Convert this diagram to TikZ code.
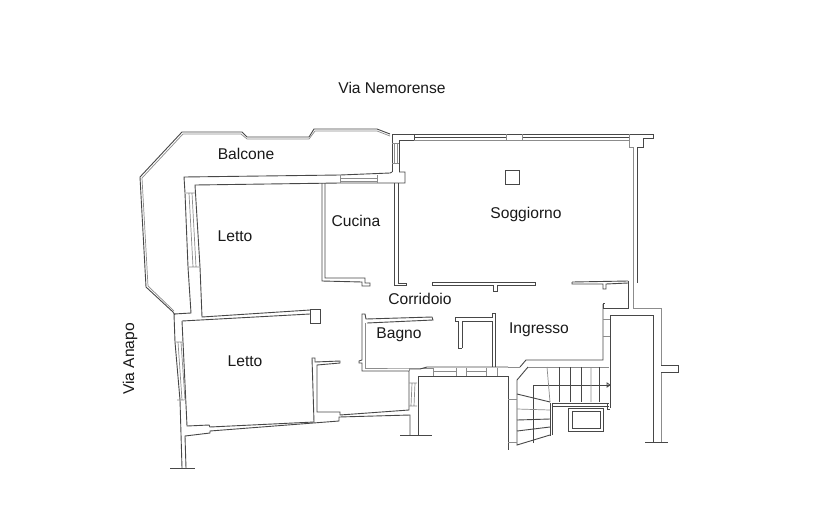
\documentclass[tikz,border=0pt]{standalone}
\usepackage{fontspec}
\setmainfont{Liberation Sans}
\begin{document}
\begin{tikzpicture}[x=1pt,y=-1pt,
  wall/.style={draw=black!72,line width=0.9pt,line join=miter},
  thin wall/.style={draw=black!45,line width=0.7pt},
  label text/.style={font=\fontsize{15.6}{18}\selectfont,text=black!90,inner sep=0pt}]
\useasboundingbox (0,0) rectangle (840,517);
\fill[white] (0,0) rectangle (840,517);
% labels
\node[label text] (nem) at (392,88) {Via Nemorense};
\node[label text] (bal) at (246,154) {Balcone};
\node[label text] (cuc) at (356,220.5) {Cucina};
\node[label text] (le1) at (235,236.5) {Letto};
\node[label text] (sog) at (526,214) {Soggiorno};
\node[label text] (cor) at (420,299) {Corridoio};
\node[label text] (bag) at (399,335) {Bagno};
\node[label text] (ing) at (539,330) {Ingresso};
\node[label text] (le2) at (245,361) {Letto};
\node[label text,rotate=90] (ana) at (130,359) {Via Anapo};
% balcony
\draw[wall] (175,315) -- (173,312) -- (146,287) -- (140,177) -- (182,132) -- (242,132) -- (247,137) -- (309,137) -- (314,129) -- (377,129) -- (390,134);
\draw[thin wall] (174,311) -- (148,286) -- (142,178) -- (183,134) -- (241,134) -- (247,139) -- (309,139) -- (315,131) -- (377,131) -- (390,136);
% top wall and right wall of Soggiorno
\draw[wall] (392,172) -- (392,134) -- (653,134) -- (653,138) -- (643,138) -- (643,147) -- (637,147) -- (637,283);
\draw[wall] (399,172) -- (399,140.5) -- (414,140.5) -- (414,134);
\draw[thin wall] (414,140.5) -- (629,140.5) -- (629,147) -- (633,147) -- (633,283);
\draw[wall] (414,137.5) -- (506,137.5) (522,137.5) -- (629,137.5);
\draw[thin wall] (506,134) -- (506,140.5) (522,134) -- (522,140.5) (629,134) -- (629,140.5);
\draw[thin wall] (392,143) -- (399,143) (392,163) -- (399,163) (394,143) -- (394,163) (397,143) -- (397,163);
% balcony / rooms wall
\draw[wall] (392,172) -- (390,173) -- (340,175) -- (184,177) -- (185,193) -- (188,267) -- (191,313) -- (174,314) -- (175,342) -- (180,400) -- (182,468);
\draw[wall] (399,172) -- (405,172) -- (405,183) -- (377,183) -- (340,183) -- (195,185) -- (200,267) -- (202,317) -- (310,310);
\draw[thin wall] (340,175) -- (340,183) (377,175) -- (377,183) (340,178.5) -- (377,178.5) (340,181) -- (377,181);
% window first Letto
\draw[thin wall] (186,193) -- (195,193) (188,267) -- (200,267) (189,193) -- (193,267) (192,193) -- (196,267);
% pillar
\draw[wall] (310,309) rectangle (320,323);
\draw[wall] (182,321) -- (310,314);
% second Letto
\draw[wall] (182,321) -- (187,426) -- (209,425) -- (210,427) -- (314,422) -- (312,358) -- (315,358) -- (315,362) -- (340,361) -- (340,363) -- (317,365) -- (317,412) -- (340,412) -- (340,415) -- (409,410) -- (409,371) -- (362,371) -- (362,363) -- (359,363) -- (359,361) -- (362,360) -- (362,314) -- (365,314) -- (366,319) -- (432,317) -- (433,320) -- (367,323);
\draw[thin wall] (365,323) -- (365,368) -- (409,368) -- (433,368);
\draw[wall] (186,468) -- (185,436) -- (210,433) -- (210,431) -- (339,421) -- (339,417) -- (410,415) -- (410,435);
\draw[thin wall] (175,342) -- (183,342) (178,342) -- (182,400) (181,342) -- (185,400) (177,400) -- (184,400);
\draw[wall] (170,468) -- (195,468) (400,435) -- (432,435);
% Cucina
\draw[wall] (322,183) -- (322,281) -- (362,282) -- (362,286) -- (370,286) -- (370,283) -- (365,283) -- (365,278) -- (325,278) -- (325,183);
% Soggiorno left wall
\draw[wall] (394,183) -- (394,285) -- (406,285) -- (406,283) -- (398,283) -- (398,183);
% Soggiorno bottom walls
\draw[wall] (432,282.5) -- (535,282.5) -- (535,285) -- (497,285) -- (497,291) -- (493,291) -- (493,285) -- (432,285) -- cycle;
\draw[wall] (572,282) -- (628,281) (572,282) -- (572,284) -- (603,284) -- (603,289) -- (606,289) -- (606,284) -- (628,283);
% Corridor to Ingresso
\draw[wall] (628,281) -- (628,308) -- (603,308) -- (603,303) -- (605,303);
\draw[thin wall] (633,283) -- (633,308) -- (661,308) -- (661,365);
% Bagno door partition
\draw[wall] (462,348) -- (462,321) -- (492,321) -- (492,367) (458,321) -- (458,348) -- (462,348);
\draw[wall] (458,321) -- (455,321) -- (455,317) -- (492,317) -- (492,313) -- (495,313) -- (495,367);
% Ingresso south wall
\draw[wall] (603,304) -- (603,360) -- (526,360) -- (520,367);
\draw[thin wall] (520,367) -- (508,367) (603,319) -- (610,319) (603,336) -- (610,336);
\draw[wall] (409,369) -- (420,369) -- (427,367) -- (508,367);
\draw[wall] (418,435) -- (418,376) -- (508,376) -- (508,450);
\draw[thin wall] (409,371) -- (409,369) (433,368) -- (433,376) (456,368) -- (456,376) (466,368) -- (466,376) (486,368) -- (486,376) (497,368) -- (497,376) (433,371) -- (456,371) (466,371) -- (486,371);
\draw[thin wall] (409,383) -- (417,383) (409,406) -- (417,406) (412,383) -- (411,406) (415,383) -- (414,406);
% east block
\draw[wall] (610,408) -- (610,315) -- (653,315) -- (653,442);
\draw[thin wall] (661,372) -- (661,442);
\draw[wall] (661,365) -- (678,365) -- (678,372) -- (661,372);
\draw[wall] (645,442) -- (668,442);
% stair
\draw[wall] (528,367) -- (517,380) -- (517,445) -- (550,435);
\draw[thin wall] (528,367) -- (609,367);
\draw[thin wall] (508,399) -- (517,399) (508,442) -- (517,442);
\draw[wall] (550,403) -- (550,436) (552,403) -- (552,435) (552,403) -- (609,403) (552,406) -- (609,406);
\draw[wall] (607,403) -- (607,409) -- (610,409);
\draw[wall] (533,443) -- (533,385) -- (610,385);
\draw[wall] (607,383) -- (610,385) -- (607,387) -- cycle;
\draw[wall] (559,367) -- (559,402) (570,367) -- (570,402) (581,367) -- (581,402) (599,367) -- (599,402);
\draw[thin wall] (591,367) -- (591,402) (547,367) -- (550,402) (517,409) -- (550,410);
\draw[wall] (517,394) -- (550,402) (517,420) -- (550,419) (517,431) -- (550,427);
% lift
\draw[wall] (568,408) rectangle (603,431);
\draw[wall] (572,411) rectangle (600,428);
% column
\draw[wall] (505,170) rectangle (519,184);
\end{tikzpicture}
\end{document}
